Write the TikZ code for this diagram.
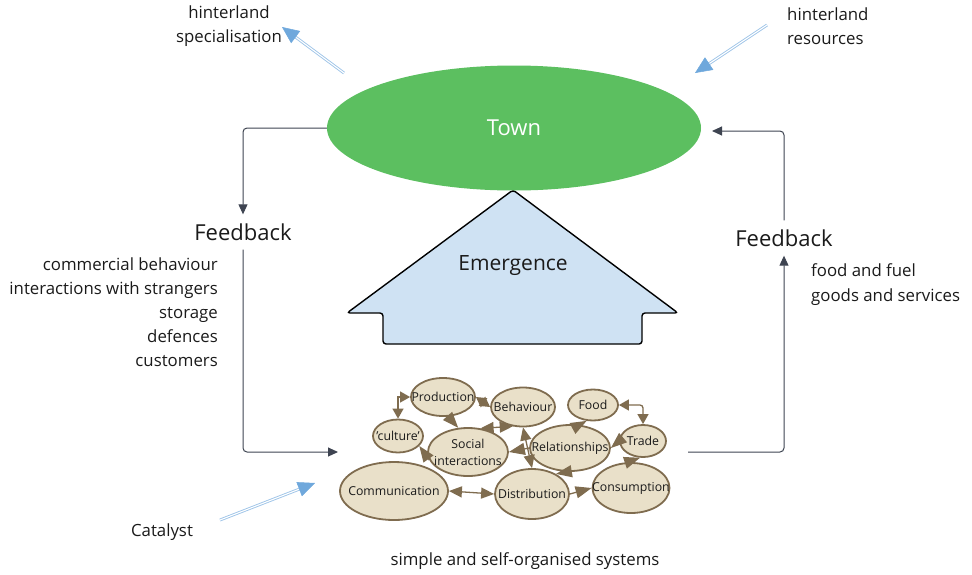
\documentclass[tikz,border=0pt]{standalone}
\usepackage{fontspec}
\setmainfont{Open Sans}
\usetikzlibrary{arrows.meta,shapes.geometric,calc}
\definecolor{towngreen}{HTML}{5CBF60}
\definecolor{emblue}{HTML}{CFE2F3}
\definecolor{cellfill}{HTML}{E9E0C9}
\definecolor{cellline}{HTML}{7F6C4F}
\definecolor{fbline}{HTML}{3E4451}
\definecolor{flowblue}{HTML}{9EC4E8}
\definecolor{flowtip}{HTML}{6FA8DC}
\definecolor{ink}{HTML}{1A1A1A}

\begin{document}
\begin{tikzpicture}[x=1pt,y=-1pt,
  every node/.style={text=ink},
  txt/.style={font=\fontsize{16.8}{24}\selectfont, inner sep=0pt},
  big/.style={font=\fontsize{22}{24}\selectfont},
  cell/.style={ellipse, draw=cellline, line width=1.8pt, fill=cellfill,
    inner sep=0pt, font=\fontsize{12.3}{14}\selectfont},
  ctip/.tip={Triangle[length=16pt,width=12pt]},
  mtip/.tip={Triangle[length=13pt,width=11pt]},
  stip/.tip={Triangle[length=10pt,width=11pt]},
  cone/.style={draw=cellline, line width=1.3pt, -{ctip[fill=cellline]}},
  cboth/.style={draw=cellline, line width=1.3pt, {mtip[fill=cellline]}-{mtip[fill=cellline]}},
  sboth/.style={draw=cellline, line width=1.3pt, {stip[fill=cellline]}-{stip[fill=cellline]}},
  fb/.style={draw=fbline, line width=1pt, rounded corners=4pt,
    -{Triangle[length=10pt,width=9pt,fill=fbline]}},
  flow/.style={draw=flowblue, line width=0.9pt, double=white, double distance=1.1pt},
  flowhead/.style={draw=flowtip, line width=0.5pt, -{Triangle[length=17pt,width=15pt,fill=flowtip]}},
]
\useasboundingbox (0,0) rectangle (972,574);

% ---------- town ----------
\node[ellipse, fill=towngreen, minimum width=374pt, minimum height=125pt,
      inner sep=0pt, font=\fontsize{22}{24}\selectfont, text=white] (town) at (514,128) {Town};

% ---------- emergence arrow ----------
\draw[fill=emblue, draw=black, line width=1.4pt, rounded corners=3pt]
  (513,190) -- (678,313) -- (642,313) -- (642,344) -- (383,344) -- (383,313)
  -- (347,313) -- cycle;
\node[big, font=\fontsize{21}{24}\selectfont] (emerg) at (513,266) {Emergence};

% ---------- outer labels ----------
\node[txt, align=center] (spec) at (229,26) {hinterland\\specialisation};
\node[txt, align=left, anchor=west] (res) at (787,26) {hinterland\\resources};
\node[big, inner sep=9pt] (fbL) at (243,232) {Feedback};
\node[big, inner sep=9pt] (fbR) at (784,238) {Feedback};
\node[txt, align=right, anchor=east] (outL) at (218,312)
  {commercial behaviour\\interactions with strangers\\storage\\defences\\customers};
\node[txt, align=left, anchor=west, font=\fontsize{16.8}{25}\selectfont] (outR) at (811,285)
  {food and fuel\\goods and services};
\node[txt] (cat) at (162,532) {Catalyst};
\node[txt] (sys) at (525,561) {simple and self-organised systems};

% ---------- feedback connectors ----------
\coordinate (sysIn) at (338,452);
\coordinate (sysOut) at (688,452);
\coordinate (townIn) at (712,131);
\draw[fb] (town.west) -| (fbL.north);
\draw[fb] (fbL.south) |- (sysIn);
\draw[fb] (sysOut) -| (fbR.south);
\draw[fb] (fbR.north) |- (townIn);

% ---------- hinterland and catalyst flows ----------
\coordinate (specA) at (344,73);
\coordinate (specB) at (282,27);
\coordinate (resA) at (767,25);
\coordinate (resB) at (695,73);
\coordinate (catA) at (220,520);
\coordinate (catB) at (315,483);
\foreach \a/\b in {specA/specB, resA/resB, catA/catB}{
  \draw[flow] (\a) -- ($(\b)!14pt!(\a)$);
  \draw[flowhead] ($(\b)!17pt!(\a)$) -- (\b);
}

% ---------- self-organised system ----------
\node[cell, minimum width=64pt, minimum height=38pt] (prod) at (443,397) {\makebox[0pt]{Production}};
\node[cell, minimum width=64pt, minimum height=39pt] (beh)  at (523,407) {\makebox[0pt]{Behaviour}};
\node[cell, minimum width=50pt, minimum height=31pt] (food) at (593,405) {\makebox[0pt]{Food}};
\node[cell, minimum width=50pt, minimum height=33pt] (cul)  at (398,436) {\makebox[0pt]{'culture'}};
\node[cell, minimum width=80pt, minimum height=48pt] (soc)  at (468,452)
  {\makebox[0pt]{\shortstack{Social\\[5pt]interactions}}};
\node[cell, minimum width=80pt, minimum height=46pt] (rel)  at (570,448) {\makebox[0pt]{Relationships}};
\node[cell, minimum width=46pt, minimum height=32pt] (trade) at (643,441) {\makebox[0pt]{Trade}};
\node[cell, minimum width=108pt, minimum height=58pt] (comm) at (394,491) {\makebox[0pt]{Communication}};
\node[cell, minimum width=74pt, minimum height=50pt] (dist) at (532,494) {\makebox[0pt]{Distribution}};
\node[cell, minimum width=77pt, minimum height=50pt] (cons) at (631,488) {\makebox[0pt]{Consumption}};

\draw[sboth] (cul.north) |- (prod.west);
\draw[sboth] (prod.east) -- (beh.west);
\draw[cone] (soc.192) -- (cul.-25);
\draw[cone] (prod.-75) -- (soc.112);
\draw[cboth] (soc.62) -- (beh.-118);
\draw[cboth] (dist.north) -- (beh.south);
\draw[cone] (rel.west) -- (soc.east);
\draw[cone] (rel.68) -- (food.-112);
\draw[sboth, rounded corners=3pt] (food.east) -| (trade.north);
\draw[cone] (trade.west) -- (rel.east);
\draw[cone] (cons.100) -- (trade.-100);
\draw[cone] (rel.-95) -- (dist.40);
\draw[cone] (dist.east) -- (cons.west);
\draw[cboth] (comm.east) -- (dist.west);
\end{tikzpicture}
\end{document}
